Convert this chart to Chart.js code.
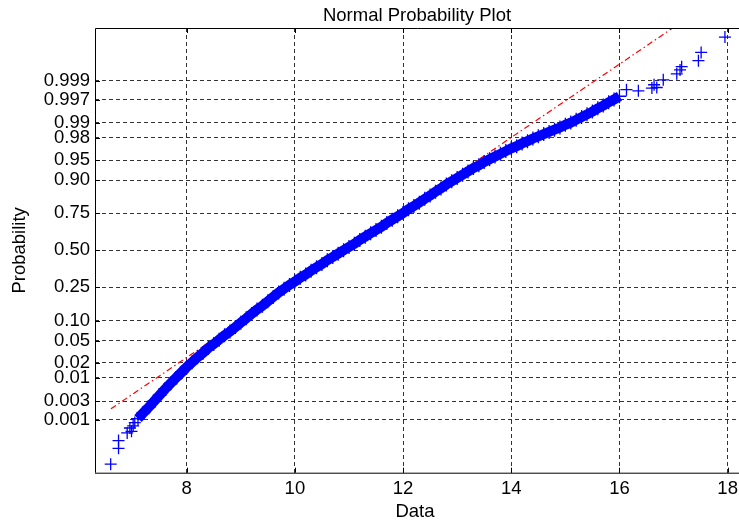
<!DOCTYPE html>
<html>
<head>
<meta charset="utf-8">
<script src="https://cdn.jsdelivr.net/npm/chart.js@4.4.1/dist/chart.umd.min.js"></script>
<style>
html,body{margin:0;padding:0;background:#fff;overflow:hidden}
</style>
</head>
<body>
<canvas id="c" width="739" height="522"></canvas>
<script>
// sorted data vs normal quantile (z)
const tailLowX=[6.595,6.74,6.74,6.90,6.95,6.98,7.01,7.04];
const tailLowZ=[-3.90,-3.61,-3.47,-3.33,-3.24,-3.30,-3.20,-3.14];
const bandX=[7.10,7.20,7.30,7.40,7.50,7.60,7.70,7.80,7.90,8.00,8.10,8.20,8.30,8.40,8.50,8.60,8.70,8.80,8.90,9.00,
  9.10,9.20,9.30,9.40,9.50,9.60,9.70,9.80,9.90,10.0,10.1,10.2,10.3,10.4,10.5,10.6,10.7,10.8,10.9,11.0,
  11.1,11.2,11.3,11.4,11.5,11.6,11.7,11.8,11.9,12.0,12.1,12.2,12.3,12.4,12.5,12.6,12.7,12.8,12.9,13.0,
  13.1,13.2,13.3,13.4,13.5,13.6,13.7,13.8,13.9,14.0,14.1,14.2,14.3,14.4,14.5,14.6,14.7,14.8,14.9,15.0,
  15.1,15.2,15.3,15.4,15.5,15.6,15.7,15.8,15.9,16.0];
const bandZ=[-3.07,-2.96,-2.86,-2.75,-2.64,-2.53,-2.43,-2.33,-2.23,-2.13,-2.04,-1.95,-1.87,-1.78,-1.71,-1.63,-1.55,-1.48,-1.40,-1.32,
  -1.24,-1.16,-1.08,-1.01,-0.93,-0.85,-0.77,-0.70,-0.63,-0.57,-0.50,-0.44,-0.37,-0.31,-0.25,-0.18,-0.12,-0.06,0.00,0.06,
  0.12,0.19,0.25,0.31,0.37,0.43,0.50,0.56,0.62,0.68,0.75,0.81,0.87,0.94,1.00,1.07,1.13,1.20,1.26,1.32,
  1.38,1.44,1.50,1.55,1.61,1.66,1.71,1.76,1.81,1.86,1.90,1.95,1.99,2.04,2.08,2.12,2.16,2.20,2.24,2.29,
  2.33,2.38,2.43,2.48,2.53,2.59,2.64,2.70,2.75,2.81];
const tailHighX=[16.13,16.35,16.60,16.64,16.69,16.81,17.06,17.12,17.15,17.46,17.51,17.95];
const tailHighZ=[2.93,2.91,2.96,3.02,2.97,3.11,3.22,3.29,3.35,3.46,3.61,3.89];
// red reference line
const fitX=[6.60,17.95];
const fitZ=[-2.89,4.70];
// axes
const probTicks=[0.001,0.003,0.01,0.02,0.05,0.10,0.25,0.50,0.75,0.90,0.95,0.98,0.99,0.997,0.999];
const probLabels=["0.001","0.003","0.01","0.02","0.05","0.10","0.25","0.50","0.75","0.90","0.95","0.98","0.99","0.997","0.999"];
const xTicks=[8,10,12,14,16,18];

// inverse normal cdf (Acklam)
function probit(p){
  const a=[-39.69683028665376,220.9460984245205,-275.9285104469687,138.3577518672690,-30.66479806614716,2.506628277459239];
  const b=[-54.47609879822406,161.5858368580409,-155.6989798598866,66.80131188771972,-13.28068155288572];
  const c=[-0.007784894002430293,-0.3223964580411365,-2.400758277161838,-2.549732539343734,4.374664141464968,2.938163982698783];
  const d=[0.007784695709041462,0.3224671290700398,2.445134137142996,3.754408661907416];
  const pl=0.02425;
  let q,r;
  if(p<pl){q=Math.sqrt(-2*Math.log(p));return (((((c[0]*q+c[1])*q+c[2])*q+c[3])*q+c[4])*q+c[5])/((((d[0]*q+d[1])*q+d[2])*q+d[3])*q+1);}
  if(p>1-pl){q=Math.sqrt(-2*Math.log(1-p));return -(((((c[0]*q+c[1])*q+c[2])*q+c[3])*q+c[4])*q+c[5])/((((d[0]*q+d[1])*q+d[2])*q+d[3])*q+1);}
  q=p-0.5;r=q*q;
  return (((((a[0]*r+a[1])*r+a[2])*r+a[3])*r+a[4])*r+a[5])*q/(((((b[0]*r+b[1])*r+b[2])*r+b[3])*r+b[4])*r+1);
}
const pts=(xs,ys)=>xs.map((x,i)=>({x:x,y:ys[i]}));

const FONT='"Liberation Sans", Arial, sans-serif';
const blue='#0000ff';

// frame, inner ticks and texts
const frame={
  id:'frame',
  afterDraw(chart){
    const {ctx,chartArea:a,scales}=chart;
    ctx.save();
    ctx.strokeStyle='#000';ctx.lineWidth=1;ctx.setLineDash([]);
    ctx.beginPath();
    ctx.moveTo(a.left+0.5,a.bottom);ctx.lineTo(a.left+0.5,a.top+0.5);ctx.lineTo(a.right,a.top+0.5);
    ctx.moveTo(a.left,a.bottom+0.5);ctx.lineTo(a.right,a.bottom+0.5);
    scales.y.ticks.forEach(t=>{const y=Math.round(scales.y.getPixelForValue(t.value))+0.5;ctx.moveTo(a.left,y);ctx.lineTo(a.left+5,y);});
    scales.x.ticks.forEach(t=>{const x=Math.round(scales.x.getPixelForValue(t.value))+0.5;ctx.moveTo(x,a.bottom);ctx.lineTo(x,a.bottom-5);ctx.moveTo(x,a.top);ctx.lineTo(x,a.top+5);});
    ctx.stroke();
    ctx.fillStyle='#000';
    ctx.font='18.5px '+FONT;
    ctx.textAlign='center';ctx.textBaseline='alphabetic';
    const cx=(a.left+a.right)/2;
    ctx.fillText('Normal Probability Plot',cx,20.7);
    ctx.fillText('Data',cx-2,516.5);
    ctx.translate(24.5,(a.top+a.bottom)/2);
    ctx.rotate(-Math.PI/2);
    ctx.fillText('Probability',0,0);
    ctx.restore();
  }
};

new Chart(document.getElementById('c'),{
  type:'scatter',
  data:{datasets:[
    {data:pts(bandX,bandZ),showLine:true,borderColor:blue,borderWidth:10,tension:0,
     pointStyle:'cross',pointRadius:7,pointBorderWidth:1.3,pointBorderColor:blue,pointBackgroundColor:blue,order:1},
    {data:pts(tailLowX,tailLowZ).concat(pts(tailHighX,tailHighZ)),showLine:false,
     pointStyle:'cross',pointRadius:6,pointBorderWidth:1.3,pointBorderColor:blue,pointBackgroundColor:blue,order:1},
    {data:pts(fitX,fitZ),showLine:true,clip:0,borderColor:'#ff0000',borderWidth:1.2,borderDash:[6,3,1.5,3],pointRadius:0,order:2}
  ]},
  options:{
    responsive:false,animation:false,events:[],
    layout:{autoPadding:false,padding:{top:28,left:0,right:0,bottom:0}},
    plugins:{legend:{display:false},tooltip:{enabled:false}},
    scales:{
      x:{type:'linear',min:6.305,max:18.21,
        afterBuildTicks(s){s.ticks=xTicks.map(v=>({value:v}));},
        afterFit(s){s.height=49.3;s.paddingLeft=0;s.paddingRight=0;},
        ticks:{font:{family:FONT,size:18.5},color:'#000',padding:5,maxRotation:0,autoSkip:false},
        grid:{color:'rgba(0,0,0,0.8)',drawTicks:false,lineWidth:1},
        border:{display:false,dash:[4,3]}},
      y:{type:'linear',min:-4.055,max:4.055,
        afterBuildTicks(s){s.ticks=probTicks.map(p=>({value:probit(p)}));},
        afterFit(s){s.width=95;s.paddingTop=0;s.paddingBottom=0;},
        ticks:{font:{family:FONT,size:18.5},color:'#000',padding:5,autoSkip:false,callback:(v,i)=>probLabels[i]},
        grid:{color:'rgba(0,0,0,0.8)',drawTicks:false,lineWidth:1},
        border:{display:false,dash:[4,3]}}
    }
  },
  plugins:[frame]
});
</script>
</body>
</html>
